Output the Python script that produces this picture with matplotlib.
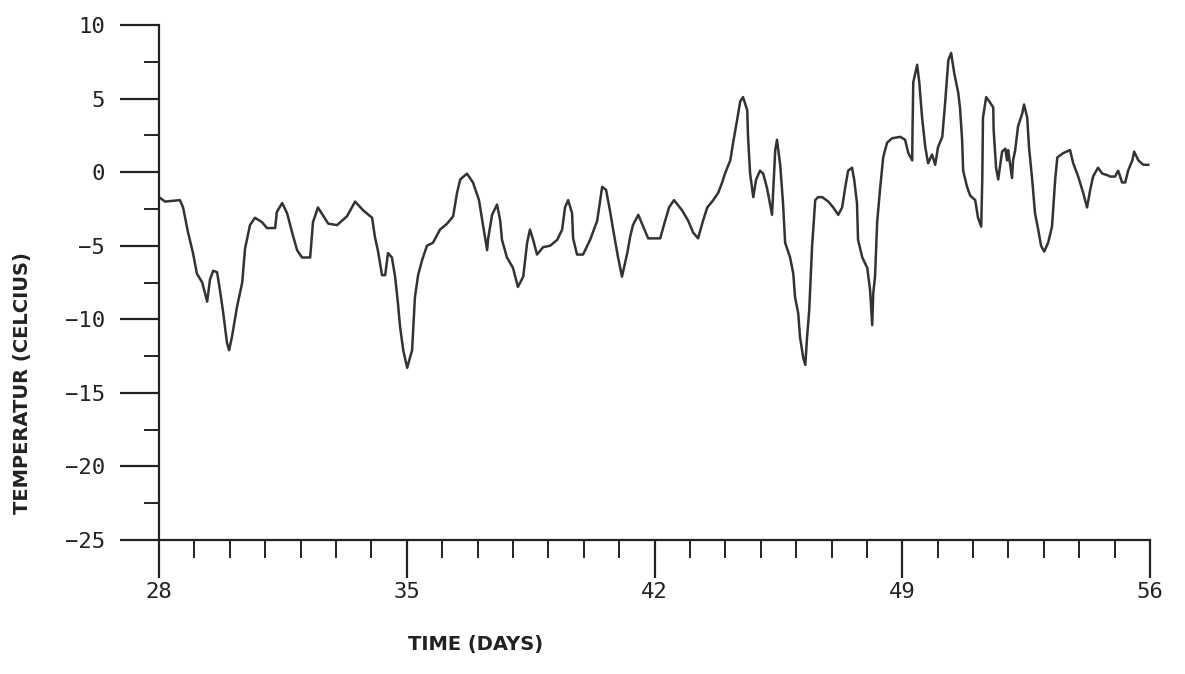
import numpy as np
import matplotlib.pyplot as plt
from matplotlib.ticker import MultipleLocator

# Tiempo (dias) y temperatura (grados C)
dias = [28.00, 28.17, 28.59, 28.68, 28.82, 28.96, 29.07, 29.22, 29.36, 29.44,
        29.53, 29.64, 29.72, 29.81, 29.92, 29.98, 30.06, 30.20, 30.35, 30.43,
        30.57, 30.71, 30.91, 31.05, 31.28, 31.33, 31.48, 31.62, 31.76, 31.90,
        32.04, 32.27, 32.35, 32.49, 32.78, 33.03, 33.31, 33.54, 33.77, 34.02,
        34.10, 34.19, 34.30, 34.39, 34.47, 34.58, 34.67, 34.75, 34.81, 34.90,
        35.01, 35.15, 35.23, 35.32, 35.43, 35.57, 35.74, 35.94, 36.14, 36.31,
        36.42, 36.51, 36.70, 36.87, 37.04, 37.16, 37.27, 37.30, 37.41, 37.55,
        37.64, 37.69, 37.83, 38.00, 38.14, 38.29, 38.40, 38.48, 38.57, 38.68,
        38.85, 39.05, 39.25, 39.39, 39.47, 39.56, 39.67, 39.70, 39.81, 39.98,
        40.18, 40.38, 40.52, 40.63, 40.74, 40.83, 40.97, 41.08, 41.23, 41.31,
        41.39, 41.54, 41.68, 41.82, 42.16, 42.30, 42.41, 42.55, 42.78, 42.95,
        43.09, 43.23, 43.37, 43.49, 43.66, 43.80, 43.91, 43.99, 44.14, 44.22,
        44.33, 44.42, 44.50, 44.62, 44.64, 44.70, 44.79, 44.87, 44.98, 45.07,
        45.18, 45.32, 45.41, 45.46, 45.55, 45.63, 45.69, 45.83, 45.92, 45.97,
        46.06, 46.11, 46.20, 46.26, 46.31, 46.37, 46.45, 46.54, 46.62, 46.74,
        46.91, 47.05, 47.19, 47.30, 47.39, 47.47, 47.58, 47.64, 47.72, 47.75,
        47.87, 48.01, 48.09, 48.15, 48.18, 48.23, 48.29, 48.37, 48.46, 48.57,
        48.71, 48.94, 49.08, 49.17, 49.28, 49.29, 49.31, 49.42, 49.48, 49.56,
        49.65, 49.73, 49.84, 49.93, 50.01, 50.13, 50.21, 50.30, 50.38, 50.47,
        50.58, 50.63, 50.69, 50.72, 50.83, 50.92, 51.06, 51.14, 51.23, 51.26,
        51.28, 51.37, 51.46, 51.57, 51.58, 51.65, 51.71, 51.82, 51.91, 51.96,
        51.99, 52.10, 52.13, 52.19, 52.27, 52.39, 52.44, 52.53, 52.58, 52.67,
        52.75, 52.84, 52.92, 53.01, 53.12, 53.23, 53.32, 53.38, 53.55, 53.74,
        53.83, 53.97, 54.11, 54.22, 54.31, 54.39, 54.53, 54.65, 54.79, 54.87,
        55.01, 55.10, 55.21, 55.30, 55.38, 55.50, 55.55, 55.67, 55.81, 55.95]

temperatura = [-1.7, -2.0, -1.9, -2.4, -4.1, -5.5, -6.9, -7.5, -8.8, -7.3,
               -6.7, -6.8, -8.0, -9.5, -11.6, -12.1, -11.2, -9.2, -7.5, -5.2,
               -3.6, -3.1, -3.4, -3.8, -3.8, -2.7, -2.1, -2.8, -4.1, -5.3,
               -5.8, -5.8, -3.4, -2.4, -3.5, -3.6, -3.0, -2.0, -2.6, -3.1,
               -4.4, -5.4, -7.0, -7.0, -5.5, -5.8, -7.1, -8.9, -10.5, -12.1,
               -13.3, -12.1, -8.5, -7.0, -6.0, -5.0, -4.8, -3.9, -3.5, -3.0,
               -1.4, -0.5, -0.1, -0.7, -1.9, -3.7, -5.3, -4.5, -2.9, -2.2,
               -3.3, -4.6, -5.8, -6.5, -7.8, -7.1, -4.8, -3.9, -4.6, -5.6,
               -5.1, -5.0, -4.6, -3.9, -2.4, -1.9, -2.8, -4.5, -5.6, -5.6,
               -4.6, -3.3, -1.0, -1.2, -2.6, -3.9, -5.8, -7.1, -5.5, -4.4,
               -3.6, -2.9, -3.7, -4.5, -4.5, -3.3, -2.4, -1.9, -2.6, -3.3,
               -4.1, -4.5, -3.3, -2.4, -1.9, -1.4, -0.7, -0.1, 0.8, 2.0,
               3.5, 4.8, 5.1, 4.2, 2.5, -0.1, -1.7, -0.5, 0.1, -0.1,
               -1.1, -2.9, 1.5, 2.2, 0.5, -2.1, -4.8, -5.8, -6.9, -8.5,
               -9.6, -11.2, -12.6, -13.1, -11.2, -9.4, -5.1, -1.9, -1.7, -1.7,
               -2.0, -2.4, -2.9, -2.4, -1.0, 0.1, 0.3, -0.5, -2.1, -4.6,
               -5.8, -6.5, -8.0, -10.4, -8.2, -7.1, -3.4, -1.2, 1.0, 2.0,
               2.3, 2.4, 2.2, 1.3, 0.8, 3.0, 6.1, 7.3, 6.1, 3.7,
               1.7, 0.6, 1.2, 0.5, 1.7, 2.4, 4.7, 7.6, 8.1, 6.7,
               5.4, 4.4, 2.2, 0.1, -1.0, -1.6, -1.9, -3.1, -3.7, -0.5,
               3.7, 5.1, 4.8, 4.4, 2.9, 0.3, -0.5, 1.4, 1.6, 0.8,
               1.5, -0.4, 0.8, 1.5, 3.1, 4.0, 4.6, 3.7, 1.7, -0.5,
               -2.8, -3.9, -5.0, -5.4, -4.8, -3.7, -0.5, 1.0, 1.3, 1.5,
               0.6, -0.3, -1.4, -2.4, -1.2, -0.3, 0.3, -0.1, -0.2, -0.3,
               -0.3, 0.1, -0.7, -0.7, 0.1, 0.8, 1.4, 0.8, 0.5, 0.5]

ticks_x = [28, 35, 42, 49, 56]
ticks_y = [-25, -20, -15, -10, -5, 0, 5, 10]

fig = plt.figure(figsize=(11.85, 6.74), dpi=100)
ax = fig.add_axes([0.1342, 0.1988, 0.8363, 0.7641])

ax.plot(dias, temperatura, color='#333333', linewidth=1.8)

ax.set_xlim(28, 56)
ax.set_ylim(-25, 10)
ax.set_xticks(ticks_x)
ax.set_yticks(ticks_y)
ax.xaxis.set_minor_locator(MultipleLocator(1))
ax.yaxis.set_minor_locator(MultipleLocator(2.5))

for lado in ['top', 'right']:
    ax.spines[lado].set_visible(False)
for lado in ['left', 'bottom']:
    ax.spines[lado].set_color('#222222')
    ax.spines[lado].set_linewidth(1.6)

fuente_ticks = {'family': 'DejaVu Sans Mono', 'size': 16}
ax.set_xticklabels([str(t) for t in ticks_x], fontdict=fuente_ticks, color='#222222')
ax.set_yticklabels([str(t).replace('-', '\u2212') for t in ticks_y], fontdict=fuente_ticks, color='#222222')

ax.tick_params(axis='x', which='major', direction='out', length=27, width=1.6, pad=3, color='#222222')
ax.tick_params(axis='x', which='minor', direction='out', length=13, width=1.4, color='#222222')
ax.tick_params(axis='y', which='major', direction='out', length=28, width=1.6, pad=11, color='#222222')
ax.tick_params(axis='y', which='minor', direction='out', length=11, width=1.4, color='#222222')

ax.set_xlabel('TIME (DAYS)', fontsize=14, fontweight='bold', color='#222222')
ax.xaxis.set_label_coords(0.319, -0.185)
ax.set_ylabel('TEMPERATUR (CELCIUS)', fontsize=14, fontweight='bold', color='#222222')
ax.yaxis.set_label_coords(-0.128, 0.305)

fig.savefig('out.png', dpi=100)
